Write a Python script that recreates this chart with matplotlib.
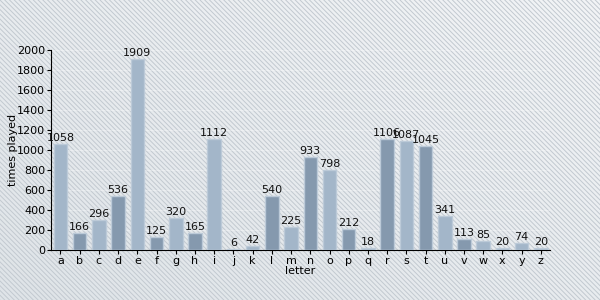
import numpy as np
import matplotlib
matplotlib.use('Agg')
from matplotlib import pyplot as plt
from matplotlib.patches import Rectangle

# data
letters = list('abcdefghijklmnopqrstuvwxyz')
played = [1058, 166, 296, 536, 1909, 125, 320, 165, 1112, 6, 42, 540, 225,
          933, 798, 212, 18, 1106, 1087, 1045, 341, 113, 85, 20, 74, 20]
dark = ['b', 'd', 'f', 'h', 'l', 'n', 'p', 'r', 't', 'v']

plt.rcParams['hatch.linewidth'] = 0.7
plt.rcParams['hatch.color'] = '#c2c9d0'

fig = plt.figure(figsize=(6, 3), dpi=100)

# background: soft gradient + diagonal lines
bg = fig.add_axes([0, 0, 1, 1], zorder=-2)
gx, gy = np.meshgrid(np.linspace(0, 1, 200), np.linspace(0, 1, 100))
shade = 0.5 * gx + 0.5 * gy
bg.imshow(shade, cmap=matplotlib.colors.LinearSegmentedColormap.from_list(
    'bgc', ['#dfe4e8', '#f2f4f6']), origin='lower', extent=[0, 1, 0, 1],
    aspect='auto')
bg.add_patch(Rectangle((0, 0), 1, 1, facecolor='none', edgecolor='#c2c9d0',
                       hatch='\\' * 7, linewidth=0))
bg.set_xlim(0, 1)
bg.set_ylim(0, 1)
bg.axis('off')

ax = fig.add_axes([0.0845, 0.1667, 0.832, 0.6666])
ax.patch.set_alpha(0)

x = np.arange(len(letters))
cols = ['#8599ae' if l in dark else '#a3b6c9' for l in letters]
bars = ax.bar(x, played, width=0.7, color=cols, edgecolor='#bccad8',
              linewidth=1.0, zorder=3)
for xi, v in zip(x, played):
    ax.text(xi, v + 10, str(v), ha='center', va='bottom', fontsize=8,
            color='#111111', zorder=4)

ax.set_xlim(-0.51, 25.47)
ax.set_ylim(0, 2000)
ax.set_yticks(range(0, 2001, 200))
ax.set_xticks(x)
ax.set_xticklabels(letters)
ax.tick_params(axis='both', labelsize=8, length=3, width=0.8, pad=1)
ax.yaxis.grid(True, color='white', linewidth=0.8, alpha=0.3, zorder=0)
ax.spines['top'].set_visible(False)
ax.spines['right'].set_visible(False)
ax.set_xlabel('letter', fontsize=8, labelpad=0)
ax.set_ylabel('times played', fontsize=8, labelpad=-1)

fig.savefig('out.png', dpi=100)
